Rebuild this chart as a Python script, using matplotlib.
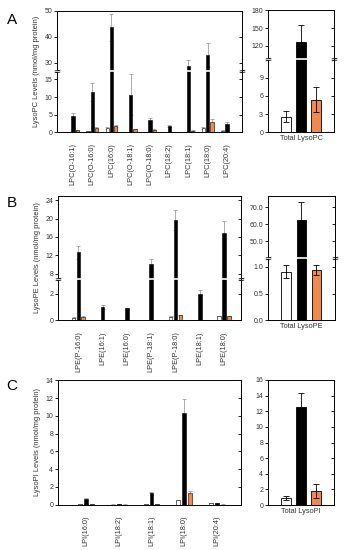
import numpy as np
import matplotlib.pyplot as plt
from matplotlib.path import Path

plt.rcParams['font.family'] = ['Liberation Sans', 'DejaVu Sans']

# --- data ---
lpc_labels = ['LPC(O-16:1)', 'LPC(O-16:0)', 'LPC(16:0)', 'LPC(O-18:1)', 'LPC(O-18:0)',
              'LPC(18:2)', 'LPC(18:1)', 'LPC(18:0)', 'LPC(20:4)']
lpc_white = [0.1, 0.3, 1.3, 0.1, 0.1, 0.05, 0.1, 1.3, 0.5]
lpc_white_err = [0.05, 0.1, 0.3, 0.05, 0.05, 0.02, 0.05, 0.3, 0.1]
lpc_black = [4.7, 11.4, 43.6, 10.6, 3.5, 1.8, 28.7, 32.8, 2.3]
lpc_black_err = [0.9, 2.5, 5.1, 5.8, 0.6, 0.4, 2.3, 4.6, 0.5]
lpc_orange = [0.6, 1.2, 1.7, 0.85, 0.75, 0.05, 0.5, 3.0, 0.1]
lpc_orange_err = [0.1, 0.2, 0.3, 0.2, 0.1, 0.02, 0.1, 0.7, 0.05]

lpe_labels = ['LPE(P-16:0)', 'LPE(16:1)', 'LPE(16:0)', 'LPE(P-18:1)', 'LPE(P-18:0)',
              'LPE(18:1)', 'LPE(18:0)']
lpe_white = [0.2, 0.02, 0.02, 0.05, 0.27, 0.02, 0.3]
lpe_white_err = [0.03, 0.01, 0.01, 0.01, 0.04, 0.01, 0.04]
lpe_black = [12.6, 1.0, 0.9, 10.0, 19.6, 1.95, 16.8]
lpe_black_err = [1.4, 0.15, 0.05, 1.1, 2.2, 0.35, 2.7]
lpe_orange = [0.25, 0.02, 0.02, 0.05, 0.37, 0.02, 0.3]
lpe_orange_err = [0.04, 0.01, 0.01, 0.01, 0.05, 0.01, 0.04]

lpi_labels = ['LPI(16:0)', 'LPI(18:2)', 'LPI(18:1)', 'LPI(18:0)', 'LPI(20:4)']
lpi_white = [0.05, 0.02, 0.08, 0.5, 0.2]
lpi_white_err = [0.01, 0.01, 0.01, 0.05, 0.02]
lpi_black = [0.68, 0.05, 1.35, 10.3, 0.2]
lpi_black_err = [0.05, 0.01, 0.08, 1.6, 0.03]
lpi_orange = [0.05, 0.02, 0.05, 1.3, 0.02]
lpi_orange_err = [0.01, 0.01, 0.01, 0.2, 0.01]

total_pc = [2.6, 126.0, 5.4]
total_pc_err = [0.9, 30.0, 2.0]
total_pe = [0.91, 62.7, 0.94]
total_pe_err = [0.12, 10.2, 0.09]
total_pi = [0.9, 12.6, 1.85]
total_pi_err = [0.3, 1.7, 0.9]

COLORS = ['white', 'black', '#EF8A4E']
W, H = 345, 550
TXT = '#333333'


def px_rect(x0, y0, x1, y1):
  return [x0 / W, 1 - y1 / H, (x1 - x0) / W, (y1 - y0) / H]


def broken_scale(lo, hi, r):
  def fwd(y):
    y = np.asarray(y, dtype=float)
    return np.where(y <= lo, y, np.where(y >= hi, lo + (y - hi) * r, lo))
  def inv(y):
    y = np.asarray(y, dtype=float)
    return np.where(y <= lo, y, hi + (y - lo) / r)
  return fwd, inv


# two short slanted strokes for the axis break
BREAK_MARK = Path([(-1, -0.45), (1, -0.2), (-1, 0.2), (1, 0.45)],
                  [Path.MOVETO, Path.LINETO, Path.MOVETO, Path.LINETO])


def setup_axis(ax, ticks, ylim, brk, fmt):
  tw = ax.twinx()
  for a in (ax, tw):
    if brk is not None:
      a.set_yscale('function', functions=broken_scale(*brk))
    a.set_ylim(*ylim)
    a.set_yticks(ticks)
  ax.set_yticklabels([fmt.format(t) for t in ticks])
  tw.set_yticklabels([])
  ax.tick_params(axis='y', direction='out', length=2, width=0.6, labelsize=5,
                 pad=1.5, labelcolor=TXT)
  tw.tick_params(axis='y', direction='in', length=2, width=0.6)
  ax.tick_params(axis='x', length=0)
  for s in tw.spines.values():
    s.set_visible(False)
  for s in ax.spines.values():
    s.set_linewidth(0.7)
  if brk is not None:
    lo = brk[0]
    ax.axhline(lo, color='white', lw=1.2, zorder=6)
    for xa in (0, 1):
      ax.plot([xa], [lo], marker=BREAK_MARK, ms=4, mfc='none', mec='black',
              mew=0.6, transform=ax.get_yaxis_transform(), clip_on=False, zorder=7)


def draw_detail(rect, labels, vals, errs, width, offset, xlim, ticks, ylim, brk, ylabel):
  ax = fig.add_axes(px_rect(*rect))
  x = np.arange(len(labels))
  for i, (v, e) in enumerate(zip(vals, errs)):
    pos = x + (i - 1) * offset
    ax.bar(pos, v, width=width, color=COLORS[i], edgecolor='black', linewidth=0.4, zorder=3)
    ax.errorbar(pos, v, yerr=e, fmt='none', ecolor='#8c8c8c', elinewidth=0.5,
                capsize=1.2, capthick=0.5, zorder=2)
  ax.set_xlim(*xlim)
  ax.set_xticks(x)
  ax.set_xticklabels(labels, rotation=90, fontsize=5.3, color=TXT)
  ax.tick_params(axis='x', pad=8)
  setup_axis(ax, ticks, ylim, brk, '{:g}')
  ax.set_ylabel(ylabel, fontsize=5.4, labelpad=3, color=TXT)
  return ax


def draw_total(rect, label, vals, errs, ticks, ylim, brk, fmt):
  ax = fig.add_axes(px_rect(*rect))
  pos = np.arange(3) - 1
  ax.bar(pos, vals, width=0.62, color=COLORS, edgecolor='black', linewidth=0.6, zorder=3)
  ax.errorbar(pos, vals, yerr=errs, fmt='none', ecolor='black', elinewidth=0.6,
              capsize=2, capthick=0.6, zorder=4)
  ax.set_xlim(-2.2, 2.2)
  ax.set_xticks([0])
  ax.set_xticklabels([label], fontsize=5.3, color=TXT)
  ax.tick_params(axis='x', pad=2)
  setup_axis(ax, ticks, ylim, brk, fmt)
  return ax


fig = plt.figure(figsize=(3.45, 5.5), dpi=100)

# --- A: LysoPC ---
draw_detail((57, 10.7, 242, 132.3), lpc_labels,
            [lpc_white, lpc_black, lpc_orange], [lpc_white_err, lpc_black_err, lpc_orange_err],
            0.17, 0.22, (-0.83, 8.78), [0, 5, 10, 15, 30, 40, 50], (0, 50),
            (17.4, 26.8, 0.737), 'LysoPC Levels (nmol/mg protein)')
draw_total((268, 10.3, 334, 132.3), 'Total LysoPC', total_pc, total_pc_err,
           [0, 3, 6, 9, 120, 150, 180], (0, 180), (12.0, 97.0, 0.0977), '{:g}')

# --- B: LysoPE ---
draw_detail((58, 195.7, 241, 320.3), lpe_labels,
            [lpe_white, lpe_black, lpe_orange], [lpe_white_err, lpe_black_err, lpe_orange_err],
            0.15, 0.2, (-0.84, 6.7), [0, 2, 8, 12, 16, 20, 24], (0, 25),
            (3.1, 6.8, 0.344), 'LysoPE Levels (nmol/mg protein)')
draw_total((268, 196, 334.5, 320.3), 'Total LysoPE', total_pe, total_pe_err,
           [0.0, 0.5, 1.0, 50.0, 60.0, 70.0], (0, 76.7), (1.16, 40.0, 0.0319), '{:.1f}')

# --- C: LysoPI ---
draw_detail((58, 380.3, 241, 504.7), lpi_labels,
            [lpi_white, lpi_black, lpi_orange], [lpi_white_err, lpi_black_err, lpi_orange_err],
            0.12, 0.18, (-0.86, 4.74), list(range(0, 15, 2)), (0, 14),
            None, 'LysoPI Levels (nmol/mg protein)')
draw_total((268, 380, 334, 505), 'Total LysoPI', total_pi, total_pi_err,
           list(range(0, 17, 2)), (0, 16), None, '{:g}')

for letter, (xp, yp) in zip('ABC', [(12, 20), (12, 203), (12, 386)]):
  fig.text(xp / W, 1 - yp / H, letter, fontsize=11, ha='center', va='center')

fig.savefig('out.png', dpi=100)
